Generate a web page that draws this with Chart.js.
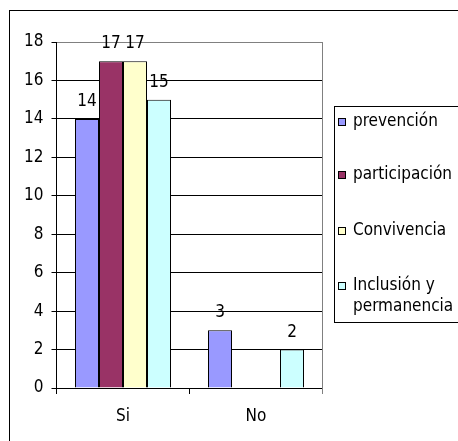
<!DOCTYPE html>
<html>
<head>
<meta charset="utf-8">
<script src="https://cdn.jsdelivr.net/npm/chart.js@4/dist/chart.umd.min.js"></script>
<style>
html,body{margin:0;padding:0;background:#fff;overflow:hidden;}
canvas{display:block;}
</style>
</head>
<body>
<canvas id="c" width="458" height="441"></canvas>
<script>
const categories = ['Si', 'No'];
const seriesNames = ['prevención', 'participación', 'Convivencia', 'Inclusión y permanencia'];
const prevencion = [14, 3];
const participacion = [17, 0];
const convivencia = [17, 0];
const inclusion = [15, 2];
const yTicks = [0, 2, 4, 6, 8, 10, 12, 14, 16, 18];

const FONT = "'DejaVu Sans Condensed', 'DejaVu Sans', Verdana, sans-serif";
const colors = ['#9999FF', '#993366', '#FFFFCC', '#CCFFFF'];
const values = [prevencion, participacion, convivencia, inclusion];

const framePlugin = {
  id: 'frame',
  afterDraw(chart) {
    const ctx = chart.ctx;
    const a = chart.chartArea;
    ctx.save();
    ctx.strokeStyle = '#000';
    ctx.lineWidth = 1;
    ctx.strokeRect(9.5, 10.5, 600, 600);
    ctx.strokeStyle = '#808080';
    ctx.beginPath();
    ctx.moveTo(Math.round(a.right) - 0.5, a.top);
    ctx.lineTo(Math.round(a.right) - 0.5, a.bottom + 6);
    ctx.stroke();
    ctx.fillStyle = '#000';
    ctx.font = '17px ' + FONT;
    ctx.textAlign = 'center';
    ctx.textBaseline = 'alphabetic';
    chart.data.datasets.forEach((ds, i) => {
      const meta = chart.getDatasetMeta(i);
      meta.data.forEach((bar, j) => {
        const v = ds.data[j];
        if (!v) return;
        ctx.fillText(String(v), bar.x, bar.y - 13);
      });
    });
    const lx = 334.5, ly = 106.5;
    ctx.strokeStyle = '#000';
    ctx.strokeRect(lx, ly, 300, 216);
    const itemY = [122, 175, 231, 286];
    ctx.textAlign = 'left';
    ctx.textBaseline = 'middle';
    chart.data.datasets.forEach((ds, i) => {
      const y = itemY[i];
      ctx.fillStyle = ds.backgroundColor;
      ctx.fillRect(338, y - 4, 7, 7);
      ctx.strokeStyle = '#000';
      ctx.strokeRect(338.5, y - 3.5, 7, 7);
      ctx.fillStyle = '#000';
      const lines = ds.label === 'Inclusión y permanencia' ? ['Inclusión y', 'permanencia'] : [ds.label];
      lines.forEach((t, k) => ctx.fillText(t, 353, y + k * 21));
    });
    ctx.restore();
  }
};

new Chart(document.getElementById('c'), {
  type: 'bar',
  data: {
    labels: categories,
    datasets: seriesNames.map((n, i) => ({
      label: n,
      data: values[i],
      backgroundColor: colors[i],
      borderColor: '#000',
      borderWidth: 1,
      categoryPercentage: 96 / 133,
      barPercentage: 1
    }))
  },
  options: {
    responsive: false,
    animation: false,
    devicePixelRatio: 1,
    layout: { padding: { left: 0, top: 42, right: 135.5, bottom: 0 } },
    plugins: { legend: { display: false }, tooltip: { enabled: false } },
    scales: {
      x: {
        offset: true,
        grid: { display: true, drawOnChartArea: false, offset: true, tickLength: 6, color: '#000' },
        border: { color: '#000', width: 1 },
        ticks: { color: '#000', font: { size: 17, family: FONT }, padding: 12 },
        afterFit(s) { s.height = 53; }
      },
      y: {
        min: 0, max: 18,
        afterBuildTicks(s) { s.ticks = yTicks.map(v => ({ value: v })); },
        grid: {
          tickLength: 5,
          color: ctx => (ctx.tick && ctx.tick.value === 18 ? '#808080' : '#000'),
          tickColor: '#000'
        },
        border: { color: '#000', width: 1 },
        ticks: { color: '#000', font: { size: 17, family: FONT }, padding: 8 },
        afterFit(s) { s.width = 56.5; }
      }
    }
  },
  plugins: [framePlugin]
});
</script>
</body>
</html>
